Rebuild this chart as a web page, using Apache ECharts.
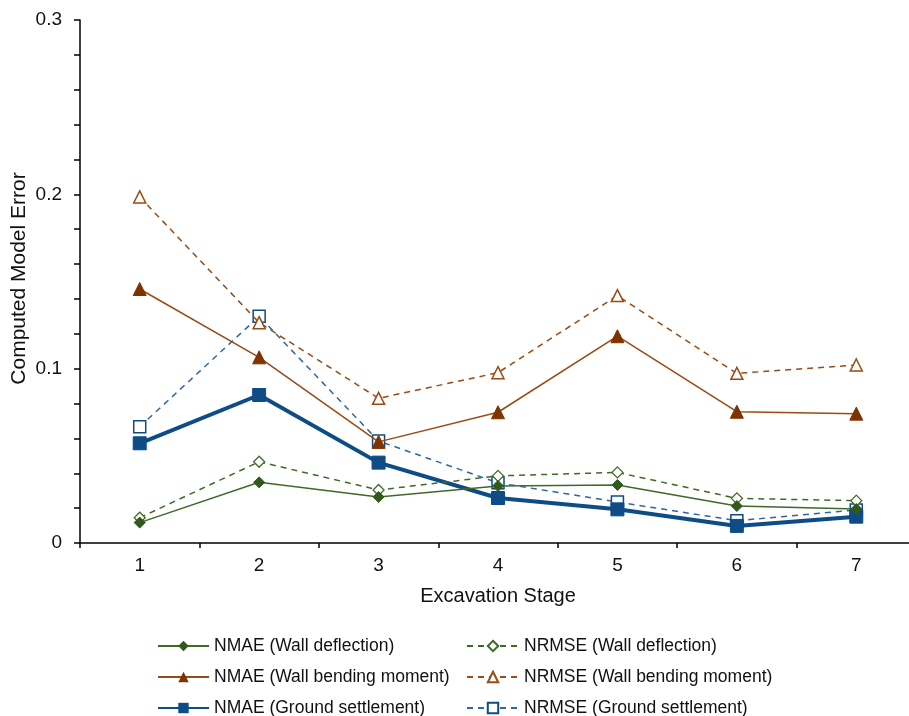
<!DOCTYPE html>
<html>
<head>
<meta charset="utf-8">
<script src="https://cdn.jsdelivr.net/npm/echarts@6/dist/echarts.min.js"></script>
<style>
    html, body { margin: 0; padding: 0; background: #fff; }
    #chart { width: 909px; height: 716px; }
</style>
</head>
<body>
<div id="chart"></div>
<script>
    // data
    var stages = ['1', '2', '3', '4', '5', '6', '7'];
    var yTicks = [0, 0.1, 0.2, 0.3];

    var nmaeDeflection = [0.0117, 0.0348, 0.0264, 0.0327, 0.0333, 0.0212, 0.0195];
    var nrmseDeflection = [0.0145, 0.0466, 0.0304, 0.0385, 0.0405, 0.0256, 0.0243];
    var nmaeMoment = [0.1457, 0.1065, 0.0580, 0.0750, 0.1186, 0.0753, 0.0742];
    var nrmseMoment = [0.1985, 0.1264, 0.0830, 0.0977, 0.1419, 0.0973, 0.1021];
    var nmaeSettlement = [0.0572, 0.0849, 0.0461, 0.0258, 0.0193, 0.0098, 0.0151];
    var nrmseSettlement = [0.0667, 0.1300, 0.0585, 0.0345, 0.0235, 0.0128, 0.0190];

    var legendLeft = ['NMAE (Wall deflection)', 'NMAE (Wall bending moment)', 'NMAE (Ground settlement)'];
    var legendRight = ['NRMSE (Wall deflection)', 'NRMSE (Wall bending moment)', 'NRMSE (Ground settlement)'];

    var green = '#3f6a26';
    var brown = '#9a4a12';
    var brownDark = '#7e3300';
    var blue = '#0e4c86';
    var blueLight = '#2e679e';
    var font = 'Liberation Sans, Arial, sans-serif';

    var chart = echarts.init(document.getElementById('chart'));

    // one legend per entry so the 3x2 block lines up like the original
    var rowTop = [637, 668, 699];
    var legends = [];
    for (var i = 0; i < 3; i++) {
        legends.push({
            left: 157, top: rowTop[i], padding: 0, itemWidth: 51, itemHeight: 13,
            textStyle: { fontFamily: font, fontSize: 17.5, color: '#111' },
            data: [legendLeft[i]]
        });
        legends.push({
            left: 466, top: rowTop[i], padding: 0, itemWidth: 52, itemHeight: 13,
            textStyle: { fontFamily: font, fontSize: 17.5, color: '#111' },
            data: [legendRight[i]]
        });
    }

    var option = {
        backgroundColor: '#fff',
        animation: false,
        grid: { left: 80, top: 20, right: -7, bottom: 173, containLabel: false, outerBoundsMode: 'none' },
        legend: legends,
        xAxis: {
            type: 'category',
            data: stages,
            boundaryGap: true,
            name: 'Excavation Stage',
            nameLocation: 'middle',
            nameGap: 43,
            nameTextStyle: { fontFamily: font, fontSize: 20, color: '#111' },
            axisLine: { lineStyle: { color: '#000', width: 1.5 } },
            axisTick: { show: true, length: 5, lineStyle: { color: '#000', width: 1.5 } },
            axisLabel: { fontFamily: font, fontSize: 19, color: '#111', margin: 13 },
            splitLine: { show: false }
        },
        yAxis: {
            type: 'value',
            min: 0,
            max: 0.3,
            interval: 0.1,
            name: 'Computed Model Error',
            nameLocation: 'middle',
            nameGap: 50,
            nameMoveOverlap: false,
            nameTextStyle: { fontFamily: font, fontSize: 21, color: '#111', padding: [0, 0, 0, 6] },
            axisLine: { show: true, lineStyle: { color: '#000', width: 1.5 } },
            axisTick: { show: true, length: 6, lineStyle: { color: '#000', width: 1.5 } },
            minorTick: { show: true, splitNumber: 5, length: 6, lineStyle: { color: '#000', width: 1.5 } },
            axisLabel: {
                fontFamily: font, fontSize: 19, color: '#111', margin: 18,
                formatter: function (v) {
                    for (var k = 0; k < yTicks.length; k++) {
                        if (Math.abs(v - yTicks[k]) < 1e-9) return String(yTicks[k]);
                    }
                    return '';
                }
            },
            splitLine: { show: false }
        },
        series: [
            {
                name: 'NRMSE (Ground settlement)', type: 'line', data: nrmseSettlement,
                symbol: 'rect', symbolSize: 12,
                lineStyle: { color: blueLight, width: 1.5, type: [6, 5] },
                itemStyle: { color: '#fff', borderColor: blue, borderWidth: 1.5 },
                z: 2
            },
            {
                name: 'NMAE (Ground settlement)', type: 'line', data: nmaeSettlement,
                symbol: 'rect', symbolSize: 13,
                lineStyle: { color: blue, width: 4 },
                itemStyle: { color: blue, borderColor: blue },
                z: 3
            },
            {
                name: 'NRMSE (Wall deflection)', type: 'line', data: nrmseDeflection,
                symbol: 'diamond', symbolSize: 11,
                lineStyle: { color: green, width: 1.5, type: [6, 5] },
                itemStyle: { color: '#fff', borderColor: green, borderWidth: 1.3 },
                z: 4
            },
            {
                name: 'NMAE (Wall deflection)', type: 'line', data: nmaeDeflection,
                symbol: 'diamond', symbolSize: 11,
                lineStyle: { color: green, width: 1.5 },
                itemStyle: { color: '#2f5a1c', borderColor: '#2f5a1c' },
                z: 5
            },
            {
                name: 'NRMSE (Wall bending moment)', type: 'line', data: nrmseMoment,
                symbol: 'triangle', symbolSize: 12,
                lineStyle: { color: brown, width: 1.5, type: [6, 5] },
                itemStyle: { color: '#fff', borderColor: brown, borderWidth: 1.5 },
                z: 6
            },
            {
                name: 'NMAE (Wall bending moment)', type: 'line', data: nmaeMoment,
                symbol: 'triangle', symbolSize: 13,
                lineStyle: { color: brown, width: 1.5 },
                itemStyle: { color: brownDark, borderColor: brownDark },
                z: 7
            }
        ]
    };

    chart.setOption(option);
</script>
</body>
</html>
